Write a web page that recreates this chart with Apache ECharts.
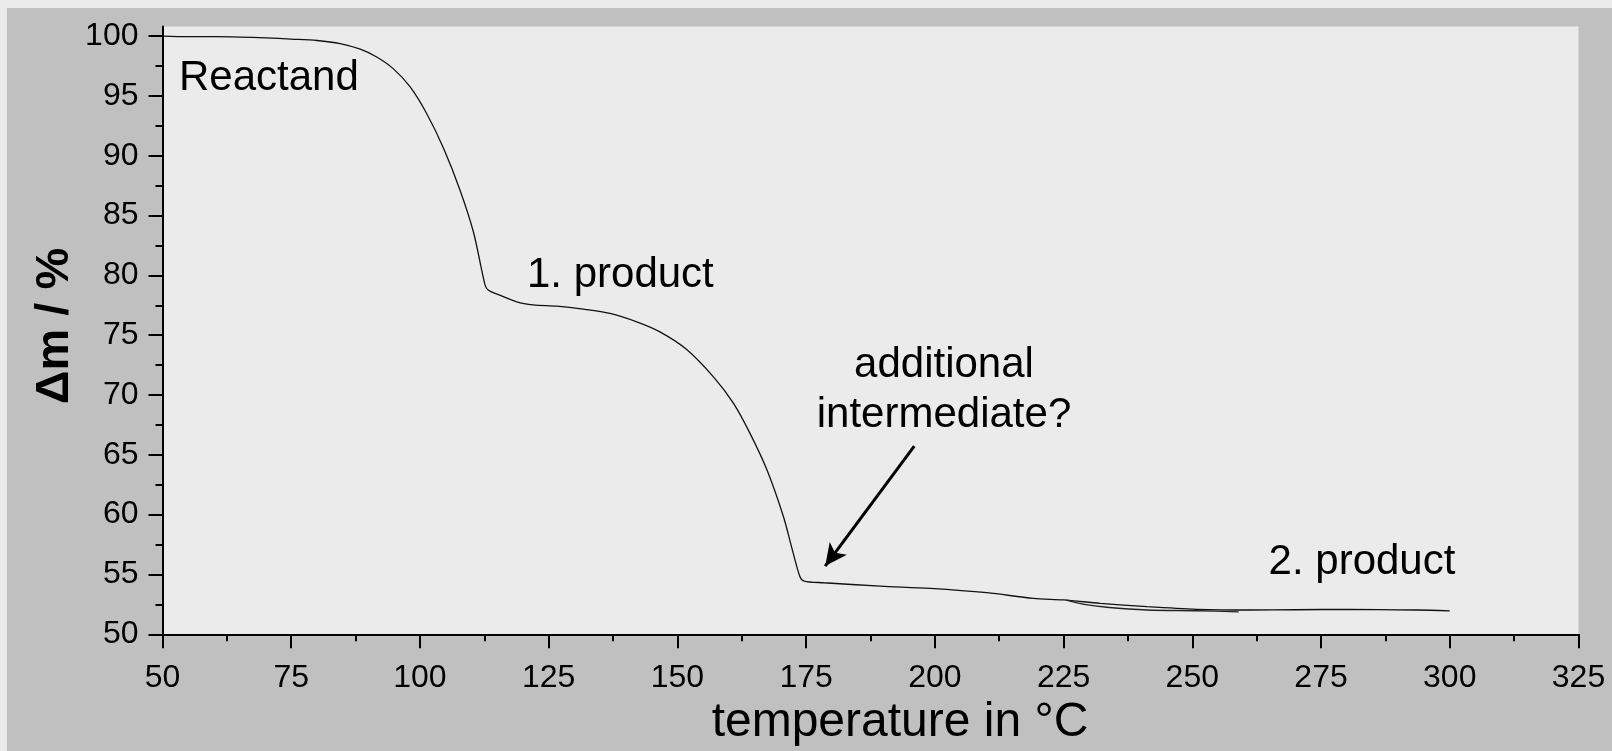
<!DOCTYPE html>
<html>
<head>
<meta charset="utf-8">
<script src="https://cdn.jsdelivr.net/npm/echarts@6/dist/echarts.min.js"></script>
<style>
  html, body { margin: 0; padding: 0; background: #eaeaea; }
  #bg { position: absolute; left: 7px; top: 8px; width: 1605px; height: 743px; background: #c0c0c0; }
  #chart { position: absolute; left: 0; top: 0; width: 1612px; height: 751px; }
</style>
</head>
<body>
<div id="bg"></div>
<div id="chart"></div>
<script>
// ---- data ----
const tempMain = [50, 55, 60, 65, 70, 75, 80, 84.5, 88.4, 91.6, 94.8, 98.1, 101.3, 104.6, 107.8, 110.4, 112.65, 113.3, 115, 118.8, 122, 126.6, 131.7, 136.9, 142.1, 146.6, 151.8, 157.0, 160.9, 164.1, 167.4, 170.6, 172.5, 173.8, 174.6, 178.4, 189.4, 199.1, 210.1, 219.1, 225.0, 232.1, 241.2, 250.9, 261.2, 270, 280.6, 293.6, 300];
const massMain = [100.0, 99.95, 99.95, 99.92, 99.85, 99.75, 99.63, 99.37, 98.9, 98.25, 97.28, 95.75, 93.53, 90.6, 87.1, 83.6, 79.18, 78.76, 78.43, 77.79, 77.54, 77.43, 77.18, 76.82, 76.12, 75.28, 73.81, 71.52, 69.3, 66.79, 63.73, 59.82, 56.77, 54.81, 54.45, 54.31, 54.03, 53.84, 53.48, 53.0, 52.87, 52.59, 52.31, 52.09, 52.03, 52.05, 52.09, 52.03, 51.95];
const tempBranch = [225.5, 229, 233.4, 241.2, 250.9, 259];
const massBranch = [52.85, 52.5, 52.26, 52.03, 51.97, 51.88];

const xTicks = [50, 75, 100, 125, 150, 175, 200, 225, 250, 275, 300, 325];
const yTicks = [50, 55, 60, 65, 70, 75, 80, 85, 90, 95, 100];
const yMinorTicks = [52.5, 57.5, 62.5, 67.5, 72.5, 77.5, 82.5, 87.5, 92.5, 97.5];

const arrowFrom = [196, 65.73];
const arrowTo = [178.7, 55.7];

const FONT = '"Liberation Sans", Arial, sans-serif';

const chart = echarts.init(document.getElementById('chart'), null, { renderer: 'canvas' });

const pairs = (xs, ys) => xs.map((x, i) => [x, ys[i]]);

chart.setOption({
  backgroundColor: 'transparent',
  animation: false,
  grid: {
    left: 162.5, right: 33.5, top: 26.5, bottom: 116.7,
    show: true, backgroundColor: '#ebebeb', borderWidth: 0,
    containLabel: false
  },
  xAxis: [{
    type: 'value', min: 50, max: 325, interval: 25,
    axisLine: { show: true, lineStyle: { color: '#000', width: 2 } },
    axisTick: { show: true, inside: false, length: 14, lineStyle: { color: '#000', width: 2 } },
    minorTick: { show: true, splitNumber: 2, length: 7, lineStyle: { color: '#000', width: 2 } },
    axisLabel: { show: true, margin: 28, color: '#000', fontSize: 32, fontFamily: FONT,
                 customValues: xTicks },
    splitLine: { show: false }, minorSplitLine: { show: false }
  }],
  yAxis: [{
    type: 'value', min: 50, max: 100.8,
    axisLine: { show: true, lineStyle: { color: '#000', width: 2 } },
    axisTick: { show: true, inside: false, length: 14, lineStyle: { color: '#000', width: 2 },
                customValues: yTicks },
    axisLabel: { show: true, margin: 24, color: '#000', fontSize: 32, fontFamily: FONT,
                 customValues: yTicks },
    splitLine: { show: false }
  }, {
    type: 'value', min: 50, max: 100.8, position: 'left',
    axisLine: { show: false },
    axisTick: { show: true, inside: false, length: 7, lineStyle: { color: '#000', width: 2 },
                customValues: yMinorTicks },
    axisLabel: { show: false },
    splitLine: { show: false }
  }],
  series: [{
    type: 'line', name: 'TG', xAxisIndex: 0, yAxisIndex: 0,
    data: pairs(tempMain, massMain),
    showSymbol: false, symbol: 'none', smooth: 0.3,
    lineStyle: { color: '#111', width: 1.3 },
    markLine: {
      silent: true, animation: false,
      symbol: ['none', 'arrow'], symbolSize: [16, 22],
      label: { show: false },
      lineStyle: { color: '#000', width: 3, type: 'solid' },
      data: [[{ coord: arrowFrom }, { coord: arrowTo }]]
    }
  }, {
    type: 'line', name: 'TG2', xAxisIndex: 0, yAxisIndex: 0,
    data: pairs(tempBranch, massBranch),
    showSymbol: false, symbol: 'none', smooth: 0.3,
    lineStyle: { color: '#222', width: 1.3 }
  }],
  graphic: [
    { type: 'text', left: 179, top: 57, style: { text: 'Reactand', font: '42px ' + FONT, fill: '#000' } },
    { type: 'text', left: 527, top: 254, style: { text: '1. product', font: '42px ' + FONT, fill: '#000' } },
    { type: 'text', x: 944, y: 365, style: { text: 'additional', font: '42px ' + FONT, fill: '#000', align: 'center', verticalAlign: 'middle' } },
    { type: 'text', x: 944, y: 415, style: { text: 'intermediate?', font: '42px ' + FONT, fill: '#000', align: 'center', verticalAlign: 'middle' } },
    { type: 'text', x: 1362, y: 562, style: { text: '2. product', font: '42px ' + FONT, fill: '#000', align: 'center', verticalAlign: 'middle' } },
    { type: 'text', x: 900, y: 723, style: { text: 'temperature in °C', font: '48px ' + FONT, fill: '#000', align: 'center', verticalAlign: 'middle' } },
    { type: 'text', x: 55, y: 326, rotation: Math.PI / 2, style: { text: 'Δm / %', font: 'bold 47px ' + FONT, fill: '#000', align: 'center', verticalAlign: 'middle' } }
  ]
});
</script>
</body>
</html>
